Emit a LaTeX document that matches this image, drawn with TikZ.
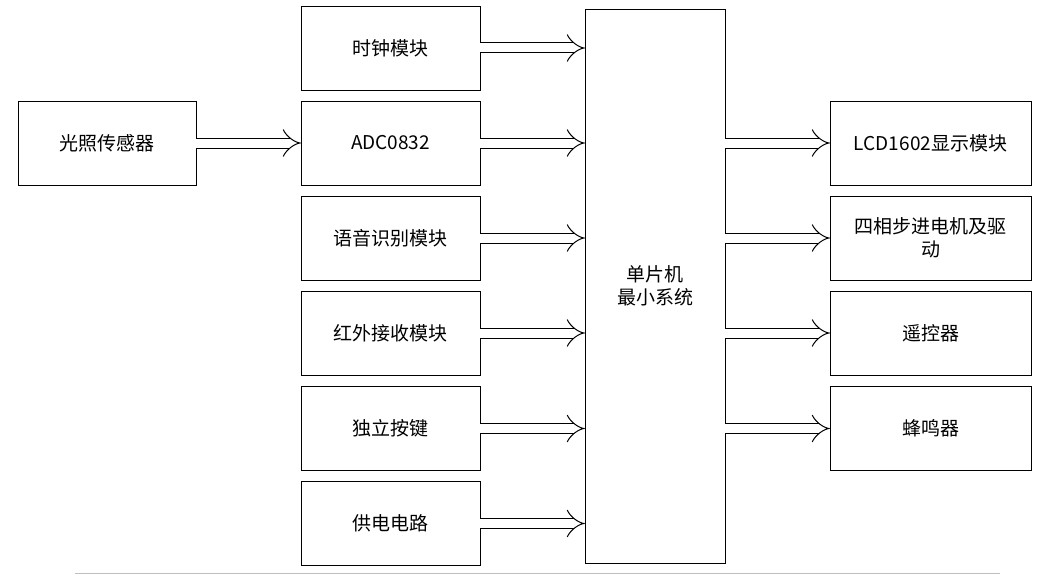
\documentclass[tikz,border=0pt]{standalone}
\usepackage{fontspec}
\setmainfont{Liberation Serif}
\newfontfamily\cjk{Noto Sans CJK SC}
\usetikzlibrary{positioning,arrows.meta}
\begin{document}
\begin{tikzpicture}[x=1pt,y=-1pt,
  blk/.style={draw, minimum width=179pt, minimum height=84pt, font=\cjk\fontsize{19}{23}\selectfont, align=center, inner sep=2pt},
  flow/.style={draw, line width=1pt, double, double distance=9pt, -{Implies[length=16pt,width=24pt]}}]
  \useasboundingbox (0,0) rectangle (1051,575);
  % left column
  \node[blk] (clk) at (390.5,48) {时钟模块};
  \node[blk] (adc) at (390.5,143) {ADC0832};
  \node[blk] (voice) at (390.5,238) {语音识别模块};
  \node[blk] (ir) at (390.5,333) {红外接收模块};
  \node[blk] (key) at (390.5,428.5) {独立按键};
  \node[blk] (pwr) at (390.5,523.5) {供电电路};
  \node[blk, minimum width=178pt] (light) at (107,143) {光照传感器};
  % controller
  \node[blk, minimum width=140pt, minimum height=554pt] (mcu) at (655,286) {单片机\\最小系统};
  % right column
  \node[blk, minimum width=201pt] (lcd) at (930.5,143) {LCD1602显示模块};
  \node[blk, minimum width=201pt] (motor) at (930.5,238) {四相步进电机及驱\\动};
  \node[blk, minimum width=201pt] (rc) at (930.5,333) {遥控器};
  \node[blk, minimum width=201pt] (buz) at (930.5,428.5) {蜂鸣器};
  % arrows
  \draw[flow] (light.east) -- (adc.west);
  \foreach \n in {clk,adc,voice,ir,key,pwr}
    \draw[flow] (\n.east) -- (mcu.west |- \n.east);
  \foreach \n in {lcd,motor,rc,buz}
    \draw[flow] (mcu.east |- \n.west) -- (\n.west);
  \draw[gray!50, line width=1pt] (75,573) -- (1000,573);
\end{tikzpicture}
\end{document}
